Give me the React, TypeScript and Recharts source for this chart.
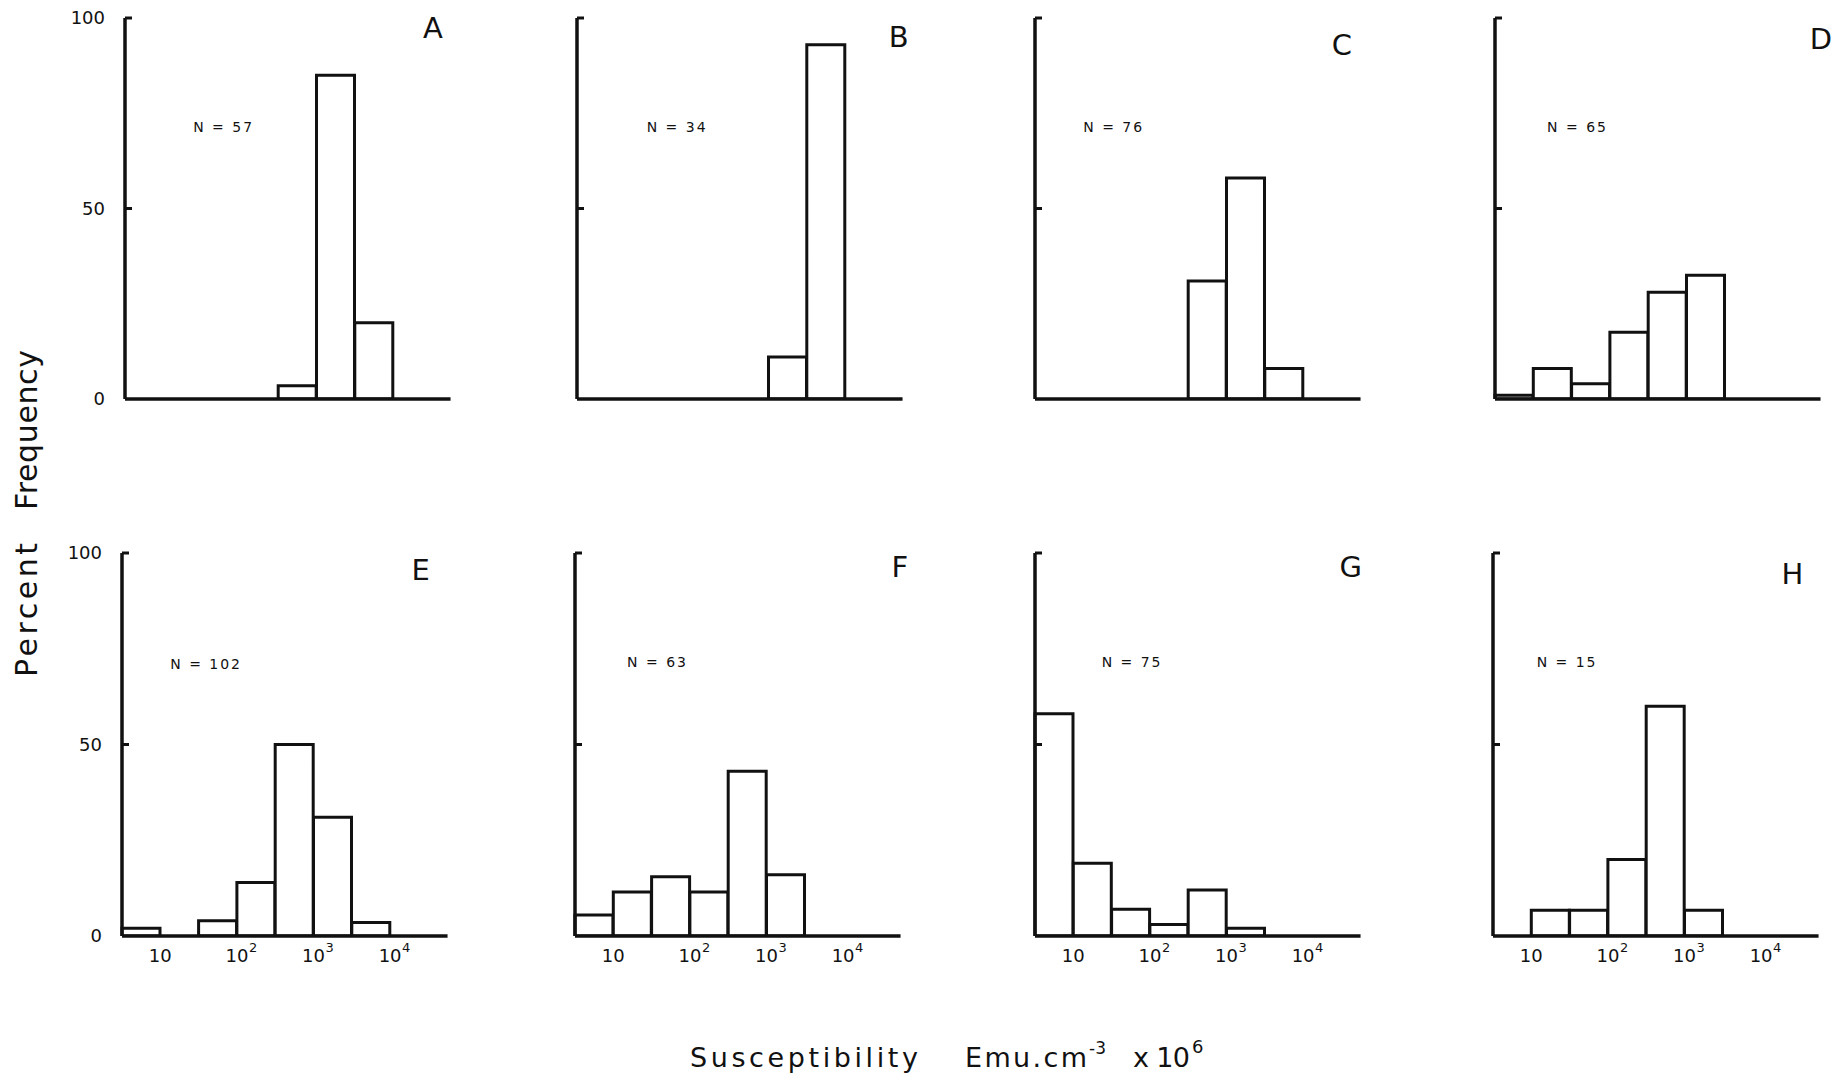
import React from 'react';
import { BarChart, Bar, XAxis, YAxis, ReferenceDot } from 'recharts';

// ---------- data ----------
const binCategories = [
  '10^0.5–10', '10–10^1.5', '10^1.5–10^2', '10^2–10^2.5',
  '10^2.5–10^3', '10^3–10^3.5', '10^3.5–10^4', '10^4–10^4.5',
];
const binStartExp = [0.5, 1, 1.5, 2, 2.5, 3, 3.5, 4];
const BIN_WIDTH_EXP = 0.5;
const panelLetters = ['A', 'B', 'C', 'D', 'E', 'F', 'G', 'H'];
const sampleCounts = [57, 34, 76, 65, 102, 63, 75, 15];

const pctA = [0, 0, 0, 0, 3.5, 85, 20, 0];
const pctB = [0, 0, 0, 0, 0, 11, 93, 0];
const pctC = [0, 0, 0, 0, 31, 58, 8, 0];
const pctD = [1, 8, 4, 17.5, 28, 32.5, 0, 0];
const pctE = [2, 0, 4, 14, 50, 31, 3.5, 0];
const pctF = [5.5, 11.5, 15.5, 11.5, 43, 16, 0, 0];
const pctG = [58, 19, 7, 3, 12, 2, 0, 0];
const pctH = [0, 6.7, 6.7, 20, 60, 6.7, 0, 0];
const panelValues = [pctA, pctB, pctC, pctD, pctE, pctF, pctG, pctH];

const yTicks = [0, 50, 100];
const yTickLabels = ['0', '50', '100'];
const xTickExponents = [1, 2, 3, 4];
const xTickBase = '10';
const xTickSup = ['', '2', '3', '4'];

// ---------- layout ----------
const INK = '#111';
const FONT = "'DejaVu Sans', sans-serif";
const LOG_MIN = 0.5;
const LOG_MAX = 4.75;
const BIN_MAX = 4.5;
const PX_PER_DECADE = 76.6;
const AXIS_X = [125, 577, 1035, 1495, 122, 575, 1035, 1493];
const ROW_TOP = [18, 553];
const ROW_BASE = [399, 936];
// annotation anchors in data units (log10 x, percent y)
const nLabelPos = [
  [1.39, 71.5], [1.41, 71.5], [1.13, 71.5], [1.18, 71.5],
  [1.13, 71], [1.18, 71.5], [1.37, 71.5], [1.07, 71.5],
];
const letterPos = [
  [4.65, 97.5], [4.83, 95], [4.64, 93], [4.9, 94.6],
  [4.52, 95.8], [4.85, 96.5], [4.77, 96.5], [4.55, 94.6],
];

const ML = 70;
const MT = 15;
const MR = 30;
const MB = 50;

function YTick(props: any) {
  const { x, y, payload, showLabel } = props;
  const axisX = x + 20;
  const idx = yTicks.indexOf(payload.value);
  return (
    <g>
      {payload.value !== 0 && (
        <line x1={axisX} x2={axisX + 7} y1={y} y2={y} stroke={INK} strokeWidth={3} />
      )}
      {showLabel && (
        <text x={x} y={y} dy="0.36em" textAnchor="end" fontSize={18} fontFamily={FONT} fill={INK}>
          {yTickLabels[idx]}
        </text>
      )}
    </g>
  );
}

function XTick(props: any) {
  const { x, y, payload } = props;
  const idx = xTickExponents.indexOf(payload.value);
  const sup = xTickSup[idx];
  return (
    <g>
      <text x={x} y={y + 26} textAnchor="middle" fontSize={18} fontFamily={FONT} fill={INK}>
        {xTickBase}
      </text>
      {sup && (
        <text x={x + 12} y={y + 16} textAnchor="start" fontSize={13} fontFamily={FONT} fill={INK}>
          {sup}
        </text>
      )}
    </g>
  );
}

function Panel({ idx }: { idx: number }) {
  const values = panelValues[idx];
  const data = binCategories.map((c, i) => ({
    bin: c,
    center: binStartExp[i] + BIN_WIDTH_EXP / 2,
    pct: values[i],
  }));
  const row = idx < 4 ? 0 : 1;
  const plotH = ROW_BASE[row] - ROW_TOP[row];
  const plotW = (LOG_MAX - LOG_MIN) * PX_PER_DECADE;
  const rightPad = (plotW * (LOG_MAX - BIN_MAX)) / (LOG_MAX - LOG_MIN);
  const width = ML + plotW + MR;
  const height = MT + plotH + MB;
  const showY = idx % 4 === 0;
  const showX = row === 1;
  const [nx, ny] = nLabelPos[idx];
  const [lx, ly] = letterPos[idx];
  return (
    <div style={{ position: 'absolute', left: AXIS_X[idx] - ML, top: ROW_TOP[row] - MT }}>
      <BarChart
        width={width}
        height={height}
        data={data}
        margin={{ top: MT, right: MR, left: ML - 60, bottom: MB - 30 }}
        barCategoryGap={0}
        barGap={0}
      >
        <XAxis
          xAxisId="log"
          dataKey="center"
          type="number"
          domain={[LOG_MIN, LOG_MAX]}
          allowDataOverflow
          ticks={xTickExponents}
          interval={0}
          tickLine={false}
          tickSize={0}
          tickMargin={0}
          height={30}
          axisLine={{ stroke: INK, strokeWidth: 3.5 }}
          tick={showX ? (p: any) => <XTick {...p} /> : false}
        />
        <XAxis
          xAxisId="bins"
          dataKey="bin"
          type="category"
          hide
          height={0}
          padding={{ left: 0, right: rightPad }}
        />
        <YAxis
          type="number"
          domain={[0, 100]}
          ticks={yTicks}
          interval={0}
          width={60}
          allowDataOverflow
          tickLine={false}
          tickSize={0}
          tickMargin={20}
          axisLine={{ stroke: INK, strokeWidth: 3.5 }}
          tick={(p: any) => <YTick {...p} showLabel={showY} />}
        />
        <Bar
          xAxisId="bins"
          dataKey="pct"
          fill="#fff"
          stroke={INK}
          strokeWidth={3}
          isAnimationActive={false}
        />
        <ReferenceDot
          xAxisId="log"
          x={nx}
          y={ny}
          r={0}
          ifOverflow="visible"
          shape={(p: any) => (
            <text x={p.cx} y={p.cy} dy="0.36em" textAnchor="start" fontSize={14} letterSpacing={2} fontFamily={FONT} fill={INK}>
              {`N = ${sampleCounts[idx]}`}
            </text>
          )}
        />
        <ReferenceDot
          xAxisId="log"
          x={lx}
          y={ly}
          r={0}
          ifOverflow="visible"
          shape={(p: any) => (
            <text x={p.cx} y={p.cy} dy="0.36em" textAnchor="end" fontSize={29} fontFamily={FONT} fill={INK}>
              {panelLetters[idx]}
            </text>
          )}
        />
      </BarChart>
    </div>
  );
}

function Titles() {
  return (
    <svg width={1834} height={1083} style={{ position: 'absolute', left: 0, top: 0, pointerEvents: 'none' }}>
      <text
        transform="translate(37, 677) rotate(-90)"
        fontSize={30}
        fontFamily={FONT}
        fill={INK}
        textLength={134}
        lengthAdjust="spacing"
      >
        Percent
      </text>
      <text
        transform="translate(37, 510) rotate(-90)"
        fontSize={30}
        fontFamily={FONT}
        fill={INK}
        textLength={160}
        lengthAdjust="spacing"
      >
        Frequency
      </text>
      <text x={690} y={1067} fontSize={27} fontFamily={FONT} fill={INK} textLength={228} lengthAdjust="spacing">
        Susceptibility
      </text>
      <text x={965} y={1067} fontSize={27} fontFamily={FONT} fill={INK} textLength={122} lengthAdjust="spacing">
        Emu.cm
      </text>
      <text x={1089} y={1054} fontSize={17} fontFamily={FONT} fill={INK}>
        -3
      </text>
      <text x={1133} y={1067} fontSize={27} fontFamily={FONT} fill={INK} textLength={57} lengthAdjust="spacing">
        x 10
      </text>
      <text x={1192} y={1053} fontSize={18} fontFamily={FONT} fill={INK}>
        6
      </text>
    </svg>
  );
}

export default function App() {
  return (
    <div
      style={{
        position: 'absolute',
        left: 0,
        top: 0,
        width: 1834,
        height: 1083,
        background: '#fff',
        overflow: 'hidden',
        fontFamily: FONT,
      }}
    >
      {panelLetters.map((_, i) => (
        <Panel key={i} idx={i} />
      ))}
      <Titles />
    </div>
  );
}
